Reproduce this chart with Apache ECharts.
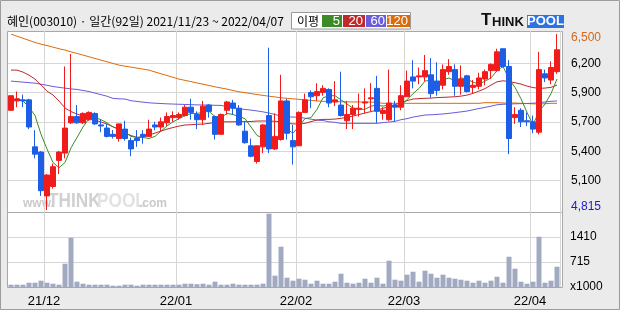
<!DOCTYPE html>
<html><head><meta charset="utf-8">
<script src="https://cdn.jsdelivr.net/npm/echarts@6/dist/echarts.min.js"></script>
<style>html,body{margin:0;padding:0;background:#ebebeb}#c{width:620px;height:310px}</style>
</head><body><div id="c"></div>
<script>
const dates = ['2021/11/23','2021/11/24','2021/11/25','2021/11/26','2021/11/29','2021/11/30',
'2021/12/01','2021/12/02','2021/12/03','2021/12/06','2021/12/07','2021/12/08','2021/12/09','2021/12/10','2021/12/13','2021/12/14','2021/12/15','2021/12/16','2021/12/17','2021/12/20','2021/12/21','2021/12/22','2021/12/23','2021/12/24','2021/12/27','2021/12/28','2021/12/29','2021/12/30',
'2022/01/03','2022/01/04','2022/01/05','2022/01/06','2022/01/07','2022/01/10','2022/01/11','2022/01/12','2022/01/13','2022/01/14','2022/01/17','2022/01/18','2022/01/19','2022/01/20','2022/01/21','2022/01/24','2022/01/25','2022/01/26','2022/01/27','2022/01/28',
'2022/02/03','2022/02/04','2022/02/07','2022/02/08','2022/02/09','2022/02/10','2022/02/11','2022/02/14','2022/02/15','2022/02/16','2022/02/17','2022/02/18','2022/02/21','2022/02/22','2022/02/23','2022/02/24','2022/02/25','2022/02/28',
'2022/03/02','2022/03/03','2022/03/04','2022/03/07','2022/03/08','2022/03/10','2022/03/11','2022/03/14','2022/03/15','2022/03/16','2022/03/17','2022/03/18','2022/03/21','2022/03/22','2022/03/23','2022/03/24','2022/03/25','2022/03/28','2022/03/29','2022/03/30','2022/03/31',
'2022/04/01','2022/04/04','2022/04/05','2022/04/06','2022/04/07'];

const opens  = [5770,5860,5870,5870,5420,5370,4950,5040,5290,5360,5650,5710,5650,5680,5740,5630,5600,5540,5500,5590,5480,5500,5540,5520,5630,5610,5650,5700,5700,5720,5800,5730,5680,5820,5710,5540,5770,5840,5790,5570,5430,5280,5420,5720,5400,5490,5860,5480,5430,5750,5940,5910,5940,5970,5850,5820,5670,5730,5780,5840,5880,5980,5740,5680,5820,5800,5900,6090,6090,6090,6110,6050,6010,6140,6160,6000,6100,5990,6000,6070,6150,6150,6360,6190,5700,5770,5670,5660,5560,6120,6060,6140];
const closes = [5910,5880,5860,5610,5350,5000,5150,5230,5370,5600,5710,5650,5740,5750,5640,5620,5520,5520,5640,5500,5400,5480,5520,5590,5610,5660,5710,5720,5730,5800,5750,5680,5810,5760,5540,5730,5850,5790,5630,5460,5330,5430,5630,5400,5520,5860,5550,5420,5750,5870,5900,5950,5980,5840,5870,5720,5730,5790,5790,5850,5890,5760,5770,5840,5800,5910,6050,6050,6100,6150,5930,5960,6160,6190,6000,6070,5950,6010,6080,6140,6210,6330,6190,5500,5730,5660,5660,5590,6160,6080,6180,6350];
const lows   = [5770,5800,5800,5590,5310,4950,4815,5020,5160,5310,5640,5640,5640,5670,5630,5560,5510,5500,5470,5480,5330,5420,5450,5520,5580,5570,5620,5660,5680,5710,5680,5590,5630,5700,5490,5540,5730,5730,5620,5450,5320,5260,5360,5360,5390,5480,5490,5250,5430,5750,5790,5860,5910,5800,5810,5710,5590,5590,5710,5740,5760,5650,5680,5670,5660,5770,5900,5980,6020,6050,5890,5910,5970,6110,5910,5920,5940,5930,5970,6010,6070,6140,6180,5350,5640,5610,5620,5550,5540,6040,6020,6120];
const highs  = [5910,5950,5920,5880,5580,5380,5160,5260,5380,6190,6310,5820,5750,5760,5750,5680,5640,5580,5640,5670,5510,5580,5580,5680,5660,5700,5750,5760,5750,5820,5880,5760,5860,5830,5720,5740,5860,5870,5820,5660,5500,5430,5640,6370,5740,6110,5880,5630,5760,5930,5960,6030,6010,5980,6050,6140,5860,5820,5930,5980,6030,6100,5800,6160,5860,6010,6150,6250,6180,6300,6270,6230,6210,6260,6210,6200,6110,6060,6130,6160,6220,6360,6360,6250,5800,5790,5750,5720,6330,6160,6240,6500];
const volumes = [65,65,65,121,121,178,121,93,65,657,1390,150,93,65,65,65,65,37,37,65,65,37,65,65,65,65,65,65,65,93,93,80,93,65,150,65,65,93,65,65,65,65,93,2067,319,1136,262,178,234,206,93,178,93,93,150,375,121,93,121,234,121,262,93,742,206,178,347,431,150,460,375,262,347,262,234,206,178,121,178,121,178,290,121,854,516,150,93,150,1418,121,178,572];
const ma5   = [null,5880,5860,5800,5720,5540,5400,5270,5220,5270,5410,5510,5610,5690,5700,5680,5650,5610,5590,5560,5520,5510,5510,5500,5520,5570,5620,5660,5690,5720,5740,5740,5750,5760,5710,5700,5740,5730,5710,5690,5610,5530,5500,5450,5460,5570,5590,5550,5620,5690,5700,5780,5890,5910,5910,5870,5830,5790,5780,5780,5810,5820,5810,5820,5810,5820,5870,5930,5980,6050,6060,6040,6060,6080,6050,6080,6070,6040,6020,6050,6080,6150,6190,6070,5990,5880,5750,5630,5760,5830,5930,6070];
const ma20  = [6155,6155,6136,6107,6069,6012,5954,5916,5859,5792,5758,5734,5715,5696,5677,5658,5638,5613,5586,5552,5528,5511,5517,5533,5552,5571,5590,5605,5619,5629,5632,5636,5638,5645,5653,5660,5660,5660,5661,5662,5663,5667,5668,5667,5665,5660,5645,5640,5638,5645,5662,5677,5683,5683,5686,5693,5703,5715,5729,5744,5758,5772,5789,5804,5825,5842,5863,5878,5882,5885,5887,5892,5894,5897,5900,5906,5916,5932,5954,5978,6012,6043,6053,6045,6034,6021,6002,5988,5980,5983,5990,6012];
const ma60  = [6050,6045,6040,6035,6030,6020,6010,5998,5990,5982,5975,5970,5960,5950,5935,5920,5905,5884,5880,5878,5862,5855,5848,5842,5838,5835,5832,5830,5828,5826,5824,5822,5821,5820,5818,5817,5805,5795,5785,5778,5772,5764,5755,5744,5730,5715,5708,5705,5703,5695,5685,5677,5672,5660,5655,5645,5645,5645,5645,5645,5645,5645,5652,5658,5664,5680,5690,5705,5715,5725,5727,5731,5735,5741,5748,5755,5763,5775,5787,5798,5810,5823,5828,5830,5832,5834,5835,5838,5842,5850,5856,5860];
const ma120 = [6500,6480,6460,6440,6420,6404,6390,6375,6360,6347,6330,6315,6299,6283,6267,6251,6235,6219,6203,6193,6184,6174,6165,6155,6137,6120,6103,6086,6069,6057,6045,6032,6020,6008,5995,5984,5973,5960,5948,5939,5930,5921,5913,5905,5898,5890,5885,5880,5875,5870,5865,5860,5856,5855,5853,5852,5851,5850,5850,5849,5849,5845,5837,5837,5837,5837,5837,5837,5837,5837,5837,5837,5837,5837,5837,5837,5837,5837,5837,5843,5843,5843,5840,5840,5840,5837,5835,5832,5830,5833,5837,5837];

const priceTickLabels = ['4,815','5,100','5,400','5,700','5,900','6,200','6,500'];
const volTickLabels = ['x1000','715','1410',''];
const monthTickLabels = ['21/12','22/01','22/02','22/03','22/04'];

const monthStarts = [];
dates.forEach((d, i) => { if (i > 0 && d.slice(0, 7) !== dates[i - 1].slice(0, 7)) monthStarts.push(i); });
const isMonthStart = (i) => monthStarts.indexOf(i) >= 0;

const UP = '#f01c1c', DOWN = '#1c5ee6';
const C5 = '#3d8b26', C20 = '#c0282a', C60 = '#6a5cdd', C120 = '#dc6c0a';
const GRID = '#d6d6d6';
const GL = 8, GW = 552;

const candleData = opens.map((o, i) => [o, closes[i], lows[i], highs[i]]);

const chart = echarts.init(document.getElementById('c'), null, {renderer: 'canvas'});
const lineS = (name, data, color) => ({
  name, type: 'line', data, xAxisIndex: 1, yAxisIndex: 1, showSymbol: false, symbol: 'none',
  lineStyle: {color, width: 1}, itemStyle: {color}, z: 2, silent: true
});
chart.setOption({
  animation: false,
  backgroundColor: '#ebebeb',
  grid: [
    {left: GL, top: 31, width: GW, height: 182},
    {left: GL, top: 34, width: GW, height: 176},
    {left: GL, top: 212, width: GW, height: 75}
  ],
  xAxis: [
    {gridIndex: 0, type: 'category', data: dates, axisLine: {show: false}, axisTick: {show: false}, axisLabel: {show: false},
     splitLine: {show: true, interval: isMonthStart, lineStyle: {color: GRID, width: 1}}},
    {gridIndex: 1, type: 'category', data: dates, show: false},
    {gridIndex: 2, type: 'category', data: dates, axisLine: {show: false}, axisTick: {show: false},
     splitLine: {show: true, interval: isMonthStart, lineStyle: {color: GRID, width: 1}},
     axisLabel: {interval: isMonthStart, margin: 8, fontSize: 13, fontFamily: 'Liberation Sans', color: '#000', padding: [0, 6, 0, 0],
       formatter: (v, i) => monthTickLabels[monthStarts.indexOf(i)] || ''}}
  ],
  yAxis: [
    {gridIndex: 0, type: 'value', show: false},
    {gridIndex: 1, type: 'value', position: 'right', min: 4815, max: 6501, interval: 281, scale: true,
     axisLine: {show: false}, axisTick: {show: false},
     splitLine: {show: true, showMinLine: false, showMaxLine: false, lineStyle: {color: GRID, width: 1}},
     axisLabel: {margin: 11, fontSize: 12, fontFamily: 'Liberation Sans',
       formatter: (v, i) => {
         const t = priceTickLabels[i];
         if (i === 0) return '{lo|' + t + '}';
         if (i === priceTickLabels.length - 1) return '{hi|' + t + '}';
         return '{n|' + t + '}';
       },
       rich: {
         n: {color: '#000', fontSize: 12, fontFamily: 'Liberation Sans'},
         hi: {color: '#d2691e', fontSize: 12, fontFamily: 'Liberation Sans', padding: [7, 0, 0, 0]},
         lo: {color: '#1a1acd', fontSize: 12, fontFamily: 'Liberation Sans', padding: [0, 0, 6, 0]}
       }}},
    {gridIndex: 2, type: 'value', position: 'right', min: 0, max: 2115, interval: 705,
     axisLine: {show: false}, axisTick: {show: false},
     splitLine: {show: true, showMinLine: false, showMaxLine: false, lineStyle: {color: GRID, width: 1}},
     axisLabel: {margin: 10, fontSize: 12, fontFamily: 'Liberation Sans', color: '#000',
       formatter: (v, i) => volTickLabels[i] || ''}}
  ],
  series: [
    lineS('MA120', ma120, C120),
    lineS('MA60', ma60, C60),
    lineS('MA20', ma20, C20),
    lineS('MA5', ma5, C5),
    {name: 'price', type: 'candlestick', data: candleData, xAxisIndex: 1, yAxisIndex: 1, barWidth: 5, z: 3, silent: true,
     itemStyle: {color: UP, color0: DOWN, borderColor: UP, borderColor0: DOWN, borderWidth: 1}},
    {name: 'volume', type: 'bar', data: volumes, xAxisIndex: 2, yAxisIndex: 2, barWidth: 5, silent: true,
     itemStyle: {color: '#a2aac2'}}
  ],
  graphic: [
    {type: 'rect', z: -30, shape: {x: 0.5, y: 0.5, width: 619, height: 309}, style: {fill: '#ebebeb', stroke: '#9c9c9c', lineWidth: 1}},
    {type: 'rect', z: -20, shape: {x: 7.5, y: 31.5, width: 555, height: 181}, style: {fill: '#ffffff', stroke: '#a8a8a8', lineWidth: 1}},
    {type: 'rect', z: -20, shape: {x: 7.5, y: 212.5, width: 555, height: 75}, style: {fill: '#ffffff', stroke: '#a8a8a8', lineWidth: 1}},
    {type: 'text', z: -10, x: 23, y: 210, style: {text: 'www.', font: 'bold 12px "Liberation Sans"', fill: '#cacaca', verticalAlign: 'bottom'}},
    {type: 'text', z: -10, x: 48, y: 212, scaleX: 0.82, style: {text: 'THINK', font: 'bold 21px "Liberation Sans"', fill: '#d0d0d0', verticalAlign: 'bottom'}},
    {type: 'text', z: -10, x: 97, y: 212, scaleX: 0.82, style: {text: 'POOL', font: 'bold 21px "Liberation Sans"', fill: '#e2e2e2', verticalAlign: 'bottom'}},
    {type: 'text', z: -10, x: 139, y: 210, style: {text: '.com', font: 'bold 12px "Liberation Sans"', fill: '#cacaca', verticalAlign: 'bottom'}},
    {type: 'text', x: 7, y: 21.5, style: {text: '혜인(003010) · 일간(92일) 2021/11/23 ~ 2022/04/07', font: '12px "Noto Sans CJK KR"', fill: '#000', verticalAlign: 'middle'}},
    {type: 'rect', shape: {x: 291.5, y: 12.5, width: 119, height: 16.5}, style: {fill: '#fff', stroke: '#9a9a9a', lineWidth: 1}},
    {type: 'text', x: 297, y: 21, style: {text: '이평', font: '12px "Noto Sans CJK KR"', fill: '#000', verticalAlign: 'middle'}},
    {type: 'rect', shape: {x: 322, y: 15, width: 20, height: 12}, style: {fill: C5}},
    {type: 'rect', shape: {x: 343, y: 15, width: 22, height: 12}, style: {fill: C20}},
    {type: 'rect', shape: {x: 366, y: 15, width: 20, height: 12}, style: {fill: C60}},
    {type: 'rect', shape: {x: 387, y: 15, width: 23, height: 12}, style: {fill: C120}},
    {type: 'text', x: 340, y: 21.5, style: {text: '5', font: '13px "Liberation Sans"', fill: '#fff', align: 'right', verticalAlign: 'middle'}},
    {type: 'text', x: 363, y: 21.5, style: {text: '20', font: '13px "Liberation Sans"', fill: '#fff', align: 'right', verticalAlign: 'middle'}},
    {type: 'text', x: 385, y: 21.5, style: {text: '60', font: '13px "Liberation Sans"', fill: '#fff', align: 'right', verticalAlign: 'middle'}},
    {type: 'text', x: 408, y: 21.5, style: {text: '120', font: '13px "Liberation Sans"', fill: '#fff', align: 'right', verticalAlign: 'middle'}},
    {type: 'text', x: 481, y: 28.5, style: {text: 'T', font: 'bold 17px "Liberation Sans"', fill: '#111', verticalAlign: 'bottom'}},
    {type: 'text', x: 492, y: 28.5, style: {text: 'HINK', font: 'bold 13px "Liberation Sans"', fill: '#111', verticalAlign: 'bottom'}},
    {type: 'rect', shape: {x: 527, y: 15, width: 37, height: 13}, style: {fill: '#2c72e4'}},
    {type: 'text', x: 545.5, y: 21.8, style: {text: 'POOL', font: 'bold 13px "Liberation Sans"', fill: '#fff', align: 'center', verticalAlign: 'middle'}}
  ]
});
</script>
</body></html>
